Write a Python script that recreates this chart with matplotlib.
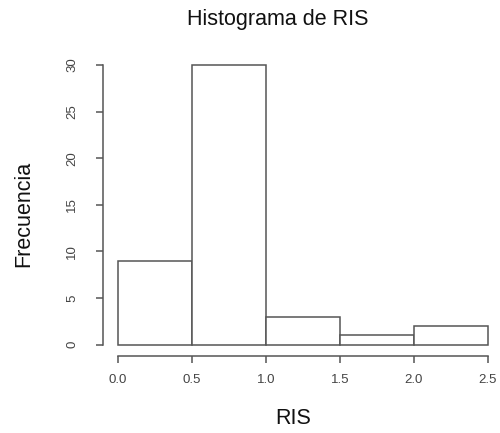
import matplotlib.pyplot as plt

plt.rcParams['font.family'] = ['Liberation Sans', 'DejaVu Sans']

# histograma de RIS (conteos por intervalo)
bordes = [0.0, 0.5, 1.0, 1.5, 2.0, 2.5]
frecuencias = [9, 30, 3, 1, 2]
xticks = [0.0, 0.5, 1.0, 1.5, 2.0, 2.5]
yticks = [0, 5, 10, 15, 20, 25, 30]

gris = '#555555'

fig = plt.figure(figsize=(5, 4.33), dpi=100)
ax = fig.add_axes([0.206, 0.178, 0.799, 0.698])

anchos = [b - a for a, b in zip(bordes[:-1], bordes[1:])]
ax.bar(bordes[:-1], frecuencias, width=anchos, align='edge',
       facecolor='white', edgecolor=gris, linewidth=1.1)

ax.set_xlim(-0.1, 2.6)
ax.set_ylim(-1.2, 31.2)

for s in ['top', 'right']:
    ax.spines[s].set_visible(False)
ax.spines['left'].set_bounds(0, 30)
ax.spines['bottom'].set_bounds(0, 2.5)
ax.spines['left'].set_position(('outward', 0))
ax.spines['bottom'].set_position(('outward', 0))
for s in ['left', 'bottom']:
    ax.spines[s].set_color(gris)
    ax.spines[s].set_linewidth(1.1)

ax.set_xticks(xticks)
ax.set_xticklabels([f'{v:.1f}' for v in xticks])
ax.set_yticks(yticks)
ax.set_yticklabels([str(v) for v in yticks], rotation=90, va='center')
ax.tick_params(axis='both', direction='out', length=5, width=1.1,
               color=gris, labelcolor='#444444', labelsize=9.5)
ax.tick_params(axis='x', pad=8)
ax.tick_params(axis='y', pad=13)

fig.text(278 / 500, 1 - 20 / 433, 'Histograma de RIS', ha='center', va='center',
         fontsize=15.5, color='#111111')
fig.text(293 / 500, 1 - 418 / 433, 'RIS', ha='center', va='center',
         fontsize=15.5, color='#111111')
fig.text(24 / 500, 1 - 214 / 433, 'Frecuencia', ha='center', va='center',
         rotation=90, fontsize=15.5, color='#111111')

fig.savefig('out.png', dpi=100)
